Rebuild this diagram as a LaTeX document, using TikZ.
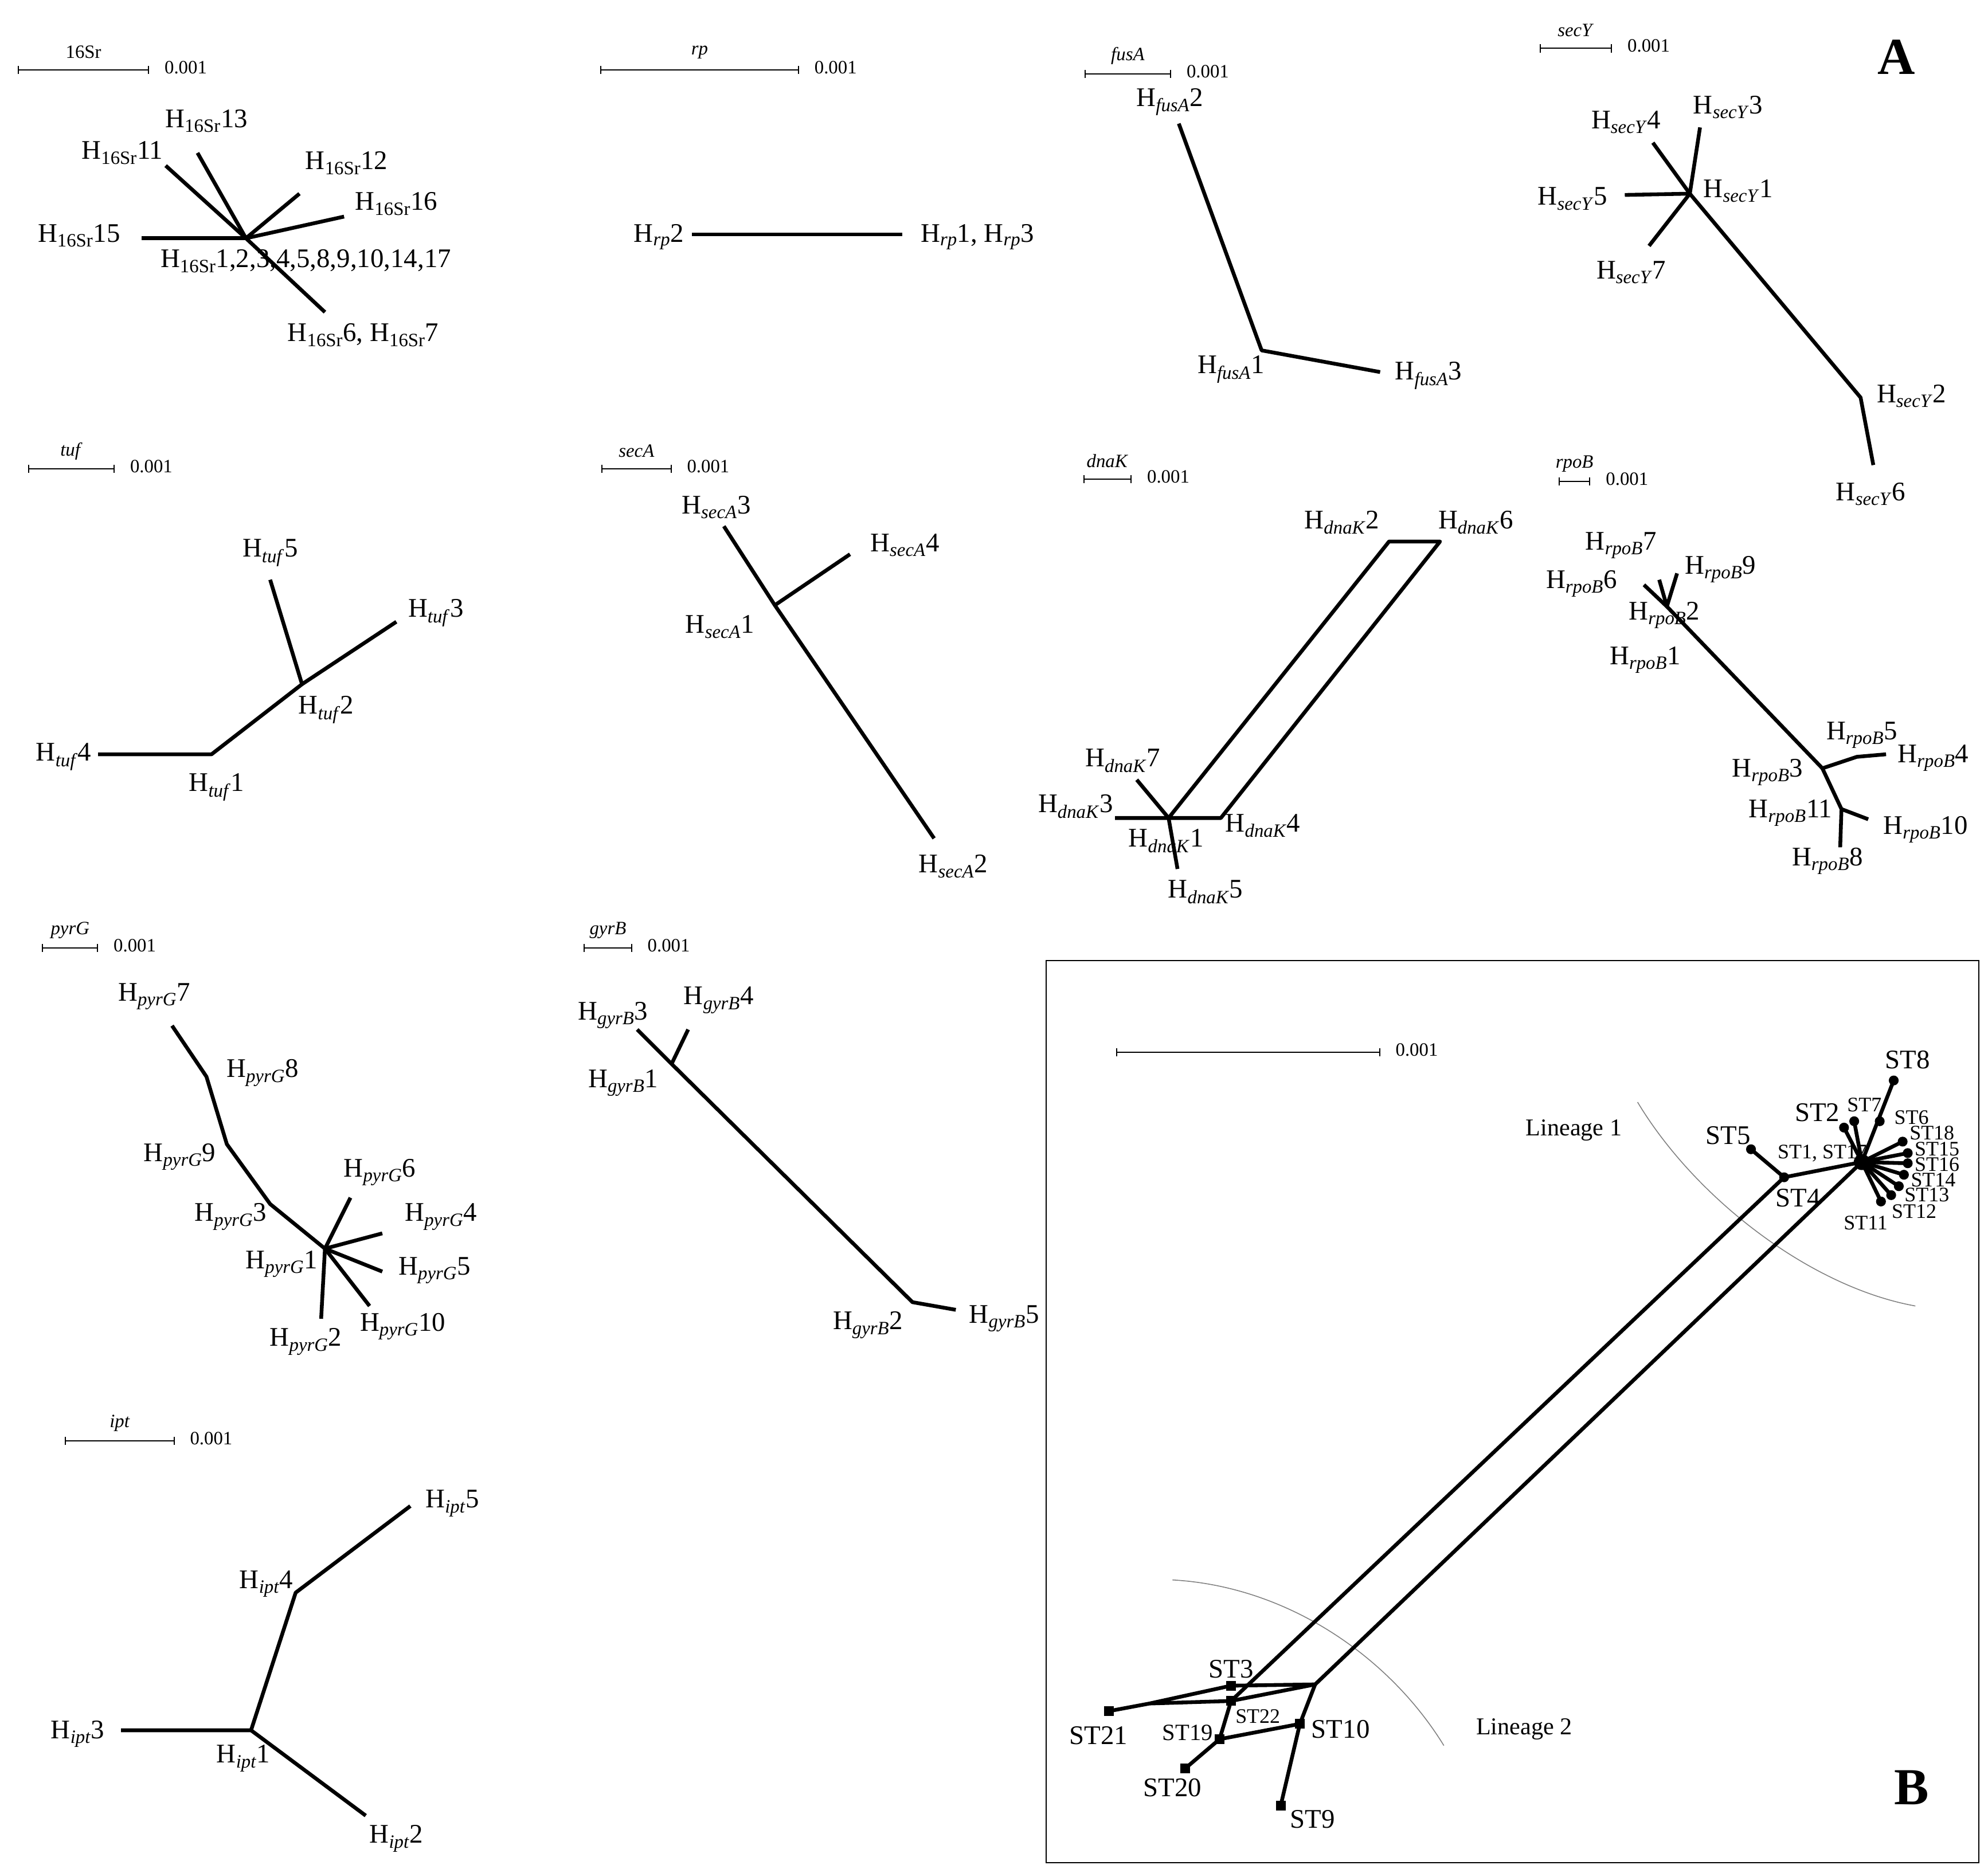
\documentclass[tikz,border=0pt]{standalone}
\usepackage{fontspec}
\usetikzlibrary{arrows.meta}
\setmainfont{Liberation Serif}
\newcommand\Hh[2]{H\textsubscript{\textit{#1}}#2}
\newcommand\Hr[1]{H\textsubscript{16Sr}#1}
\begin{document}
\begin{tikzpicture}[x=0.5mm,y=-0.5mm,
 br/.style={line width=4.2pt,line join=round},
 sb/.style={line width=1.3pt,{Bar[width=9pt]}-{Bar[width=9pt]}},
 lb/.style={font=\fontsize{30}{34}\selectfont,inner sep=0pt},
 sm/.style={font=\fontsize{21}{24}\selectfont,inner sep=0pt},
 st/.style={font=\fontsize{30}{34}\selectfont,inner sep=0pt},
 sts/.style={font=\fontsize{23}{26}\selectfont,inner sep=0pt},
 dot/.style={circle,fill,inner sep=0pt,minimum size=11pt},
 sq/.style={rectangle,fill,inner sep=0pt,minimum size=11pt},
 arc/.style={gray,line width=1pt}]
\useasboundingbox (0,0) rectangle (1560,1470);
% ---------- scale bars ----------
\newcommand\scalebar[6]{%
 \coordinate (#1a) at (#2,#4); \coordinate (#1b) at (#3,#4);
 \draw[sb] (#1a) -- (#1b);
 \node[sm] (#1t) at ({(#2+#3)/2},#4-14) {#5};
 \node[sm,anchor=west] (#1n) at (#3+12,#4-2) {#6};}
\scalebar{s1}{14}{117}{55}{16Sr}{0.001}
\scalebar{s2}{471}{627}{55}{\textit{rp}}{0.001}
\scalebar{s3}{851}{919}{58}{\textit{fusA}}{0.001}
\scalebar{s4}{1208}{1265}{38}{\textit{secY}}{0.001}
\scalebar{s5}{22}{90}{368}{\textit{tuf}}{0.001}
\scalebar{s6}{472}{527}{368}{\textit{secA}}{0.001}
\scalebar{s7}{850}{888}{376}{\textit{dnaK}}{0.001}
\scalebar{s8}{1223}{1248}{378}{\textit{rpoB}}{0.001}
\scalebar{s9}{33}{77}{744}{\textit{pyrG}}{0.001}
\scalebar{s10}{458}{496}{744}{\textit{gyrB}}{0.001}
\scalebar{s11}{51}{137}{1131}{\textit{ipt}}{0.001}
\scalebar{s12}{876}{1083}{826}{}{0.001}
\node[font=\fontsize{58}{60}\selectfont\bfseries] (A) at (1488,45) {A};
\node[font=\fontsize{58}{60}\selectfont\bfseries] (B) at (1500,1403) {B};
% ---------- 16Sr ----------
\coordinate (c1) at (193,187);
\coordinate (c1a) at (111,187); \coordinate (c1b) at (130,130); \coordinate (c1c) at (155,120);
\coordinate (c1d) at (235,152); \coordinate (c1e) at (270,170); \coordinate (c1f) at (255,245);
\foreach \p in {a,b,c,d,e,f} \draw[br] (c1) -- (c1\p);
\node[lb] (h15) at (62,185) {\Hr{15}};
\node[lb] (h11) at (96,120) {\Hr{11}};
\node[lb] (h13) at (162,95) {\Hr{13}};
\node[lb] (h12) at (272,128) {\Hr{12}};
\node[lb] (h16) at (311,160) {\Hr{16}};
\node[lb] (h1)  at (240,205) {\Hr{1,2,3,4,5,8,9,10,14,17}};
\node[lb] (h67) at (285,263) {\Hr{6}, \Hr{7}};
% ---------- rp ----------
\coordinate (r1) at (543,184); \coordinate (r2) at (708,184);
\draw[br] (r1) -- (r2);
\node[lb] (rp2) at (517,186) {\Hh{rp}{2}};
\node[lb] (rp13) at (767,186) {\Hh{rp}{1}, \Hh{rp}{3}};
% ---------- fusA ----------
\coordinate (f2) at (925,97); \coordinate (f1) at (990,275); \coordinate (f3) at (1083,292);
\draw[br] (f2) -- (f1) -- (f3);
\node[lb] (fl2) at (918,80) {\Hh{fusA}{2}};
\node[lb] (fl1) at (966,290) {\Hh{fusA}{1}};
\node[lb] (fl3) at (1121,295) {\Hh{fusA}{3}};
% ---------- secY ----------
\coordinate (y1) at (1326,152);
\coordinate (y4) at (1297,112); \coordinate (y3) at (1334,100); \coordinate (y5) at (1275,153);
\coordinate (y7) at (1294,193); \coordinate (yk) at (1460,312); \coordinate (y6) at (1470,365);
\foreach \p in {4,3,5,7} \draw[br] (y1) -- (y\p);
\draw[br] (y1) -- (yk) -- (y6);
\node[lb] (yl4) at (1276,96) {\Hh{secY}{4}};
\node[lb] (yl3) at (1356,84) {\Hh{secY}{3}};
\node[lb] (yl5) at (1234,156) {\Hh{secY}{5}};
\node[lb] (yl1) at (1364,150) {\Hh{secY}{1}};
\node[lb] (yl7) at (1280,214) {\Hh{secY}{7}};
\node[lb] (yl2) at (1500,311) {\Hh{secY}{2}};
\node[lb] (yl6) at (1468,388) {\Hh{secY}{6}};
% ---------- tuf ----------
\coordinate (t4) at (77,592); \coordinate (t1) at (166,592); \coordinate (t2) at (237,537);
\coordinate (t3) at (311,488); \coordinate (t5) at (212,455);
\draw[br] (t4) -- (t1) -- (t2) -- (t3); \draw[br] (t2) -- (t5);
\node[lb] (tl5) at (212,434) {\Hh{tuf}{5}};
\node[lb] (tl3) at (342,481) {\Hh{tuf}{3}};
\node[lb] (tl2) at (256,557) {\Hh{tuf}{2}};
\node[lb] (tl4) at (50,594) {\Hh{tuf}{4}};
\node[lb] (tl1) at (170,618) {\Hh{tuf}{1}};
% ---------- secA ----------
\coordinate (a3) at (568,413); \coordinate (a1) at (608,475); \coordinate (a2) at (733,658); \coordinate (a4) at (667,435);
\draw[br] (a3) -- (a1) -- (a2); \draw[br] (a1) -- (a4);
\node[lb] (al3) at (562,398) {\Hh{secA}{3}};
\node[lb] (al4) at (710,428) {\Hh{secA}{4}};
\node[lb] (al1) at (565,492) {\Hh{secA}{1}};
\node[lb] (al2) at (748,680) {\Hh{secA}{2}};
% ---------- dnaK ----------
\coordinate (d1) at (917,642); \coordinate (d3) at (875,642); \coordinate (d7) at (892,612);
\coordinate (d5) at (924,682); \coordinate (d2) at (1090,425); \coordinate (d6) at (1130,425); \coordinate (d4) at (958,642);
\draw[br] (d3) -- (d1) -- (d5); \draw[br] (d1) -- (d7);
\draw[br] (d1) -- (d2) -- (d6) -- (d4) -- cycle;
\node[lb] (dl2) at (1053,410) {\Hh{dnaK}{2}};
\node[lb] (dl6) at (1158,410) {\Hh{dnaK}{6}};
\node[lb] (dl7) at (881,597) {\Hh{dnaK}{7}};
\node[lb] (dl3) at (844,633) {\Hh{dnaK}{3}};
\node[lb] (dl4) at (991,648) {\Hh{dnaK}{4}};
\node[lb] (dl1) at (915,660) {\Hh{dnaK}{1}};
\node[lb] (dl5) at (946,700) {\Hh{dnaK}{5}};
% ---------- rpoB ----------
\coordinate (p2) at (1308,476); \coordinate (p7) at (1302,455); \coordinate (p9) at (1316,450); \coordinate (p6) at (1290,459);
\coordinate (p3) at (1430,603); \coordinate (p5) at (1457,594); \coordinate (p4) at (1480,592);
\coordinate (p11) at (1445,635); \coordinate (p8) at (1444,665); \coordinate (p10) at (1466,643);
\foreach \p in {7,9,6} \draw[br] (p2) -- (p\p);
\draw[br] (p2) -- (p3) -- (p5) -- (p4);
\draw[br] (p3) -- (p11) -- (p8); \draw[br] (p11) -- (p10);
\node[lb] (pl7) at (1272,428) {\Hh{rpoB}{7}};
\node[lb] (pl9) at (1350,447) {\Hh{rpoB}{9}};
\node[lb] (pl6) at (1241,458) {\Hh{rpoB}{6}};
\node[lb] (pl2) at (1306,483) {\Hh{rpoB}{2}};
\node[lb] (pl1) at (1291,518) {\Hh{rpoB}{1}};
\node[lb] (pl5) at (1461,577) {\Hh{rpoB}{5}};
\node[lb] (pl4) at (1517,595) {\Hh{rpoB}{4}};
\node[lb] (pl3) at (1387,606) {\Hh{rpoB}{3}};
\node[lb] (pl11) at (1405,638) {\Hh{rpoB}{11}};
\node[lb] (pl10) at (1511,651) {\Hh{rpoB}{10}};
\node[lb] (pl8) at (1434,676) {\Hh{rpoB}{8}};
% ---------- pyrG ----------
\coordinate (g7) at (135,805); \coordinate (g8) at (162,845); \coordinate (g9) at (178,898);
\coordinate (g3) at (212,945); \coordinate (g1) at (255,980);
\coordinate (g6) at (275,940); \coordinate (g4) at (300,968); \coordinate (g5) at (300,998);
\coordinate (g10) at (290,1025); \coordinate (g2) at (252,1035);
\draw[br] (g7) -- (g8) -- (g9) -- (g3) -- (g1);
\foreach \p in {6,4,5,10,2} \draw[br] (g1) -- (g\p);
\node[lb] (gl7) at (121,782) {\Hh{pyrG}{7}};
\node[lb] (gl8) at (206,842) {\Hh{pyrG}{8}};
\node[lb] (gl9) at (141,908) {\Hh{pyrG}{9}};
\node[lb] (gl3) at (181,955) {\Hh{pyrG}{3}};
\node[lb] (gl1) at (221,992) {\Hh{pyrG}{1}};
\node[lb] (gl6) at (298,920) {\Hh{pyrG}{6}};
\node[lb] (gl4) at (346,955) {\Hh{pyrG}{4}};
\node[lb] (gl5) at (341,997) {\Hh{pyrG}{5}};
\node[lb] (gl10) at (316,1041) {\Hh{pyrG}{10}};
\node[lb] (gl2) at (240,1053) {\Hh{pyrG}{2}};
% ---------- gyrB ----------
\coordinate (b3) at (500,808); \coordinate (b1) at (527,835); \coordinate (b2) at (716,1022);
\coordinate (b5) at (750,1028); \coordinate (b4) at (540,808);
\draw[br] (b3) -- (b1) -- (b2) -- (b5); \draw[br] (b1) -- (b4);
\node[lb] (bl3) at (481,797) {\Hh{gyrB}{3}};
\node[lb] (bl4) at (564,785) {\Hh{gyrB}{4}};
\node[lb] (bl1) at (489,850) {\Hh{gyrB}{1}};
\node[lb] (bl2) at (681,1040) {\Hh{gyrB}{2}};
\node[lb] (bl5) at (788,1035) {\Hh{gyrB}{5}};
% ---------- ipt ----------
\coordinate (i1) at (197,1358); \coordinate (i3) at (95,1358); \coordinate (i4) at (232,1250);
\coordinate (i5) at (322,1182); \coordinate (i2) at (287,1425);
\draw[br] (i3) -- (i1) -- (i4) -- (i5); \draw[br] (i1) -- (i2);
\node[lb] (il4) at (209,1243) {\Hh{ipt}{4}};
\node[lb] (il5) at (355,1180) {\Hh{ipt}{5}};
\node[lb] (il3) at (61,1361) {\Hh{ipt}{3}};
\node[lb] (il1) at (191,1380) {\Hh{ipt}{1}};
\node[lb] (il2) at (311,1443) {\Hh{ipt}{2}};
% ---------- panel B ----------
\draw[line width=1.3pt] (821,754) rectangle (1553,1462);
\draw[arc] (1285,865) .. controls (1330,940) and (1420,1010) .. (1503,1025);
\draw[arc] (920,1240) .. controls (1010,1245) and (1090,1300) .. (1133,1370);
\node[font=\fontsize{27}{30}\selectfont,inner sep=0pt] (L1) at (1235,887) {Lineage 1};
\node[font=\fontsize{27}{30}\selectfont,inner sep=0pt] (L2) at (1196,1357) {Lineage 2};
\coordinate (hub) at (1461,912);
\coordinate (n4) at (1400,924); \coordinate (n5) at (1374,902);
\coordinate (n8) at (1486,848); \coordinate (n6) at (1475,880); \coordinate (n7) at (1455,880);
\coordinate (n2) at (1447,885); \coordinate (n18) at (1493,896); \coordinate (n15) at (1497,905);
\coordinate (n16) at (1497,913); \coordinate (n14) at (1494,922); \coordinate (n13) at (1490,931);
\coordinate (n12) at (1484,938); \coordinate (n11) at (1476,943);
\coordinate (n3) at (966,1323); \coordinate (n22) at (966,1335); \coordinate (jl) at (902,1337);
\coordinate (n21) at (870,1343); \coordinate (jr) at (1032,1322); \coordinate (n10) at (1020,1353);
\coordinate (n19) at (957,1365); \coordinate (n20) at (930,1388); \coordinate (n9) at (1005,1417);
\draw[br] (n5) -- (n4) -- (hub);
\foreach \p in {8,7,2,18,15,16,14,13,12,11} \draw[br] (hub) -- (n\p);
\draw[br] (n4) -- (n22); \draw[br] (hub) -- (jr);
\draw[br] (n21) -- (jl) -- (n3) -- (jr) -- (n22) -- (jl);
\draw[br] (n22) -- (n19) -- (n20); \draw[br] (n19) -- (n10) -- (n9); \draw[br] (jr) -- (n10);
\foreach \p in {4,5,8,6,7,2,18,15,16,14,13,12,11} \node[dot] at (n\p) {};
\node[circle,fill,inner sep=0pt,minimum size=18pt] (hubd) at (hub) {};
\foreach \p in {3,22,21,10,19,20,9} \node[sq] at (n\p) {};
\node[st] (ST8) at (1497,832) {ST8};
\node[st] (ST2) at (1426,873) {ST2};
\node[sts] (ST7) at (1463,867) {ST7};
\node[sts] (ST6) at (1500,877) {ST6};
\node[st] (ST5) at (1356,891) {ST5};
\node[sts] (ST117) at (1430,905) {ST1, ST17};
\node[sts] (ST18) at (1516,889) {ST18};
\node[sts] (ST15) at (1520,902) {ST15};
\node[sts] (ST16) at (1520,914) {ST16};
\node[sts] (ST14) at (1517,926) {ST14};
\node[sts] (ST13) at (1512,938) {ST13};
\node[sts] (ST12) at (1502,951) {ST12};
\node[sts] (ST11) at (1464,960) {ST11};
\node[st] (ST4) at (1411,940) {ST4};
\node[st] (ST3) at (966,1310) {ST3};
\node[sts] (ST22) at (987,1347) {ST22};
\node[st] (ST21) at (862,1362) {ST21};
\node[sts,font=\fontsize{26}{28}\selectfont] (ST19) at (932,1360) {ST19};
\node[st] (ST10) at (1052,1357) {ST10};
\node[st] (ST20) at (920,1403) {ST20};
\node[st] (ST9) at (1030,1428) {ST9};
\end{tikzpicture}
\end{document}
